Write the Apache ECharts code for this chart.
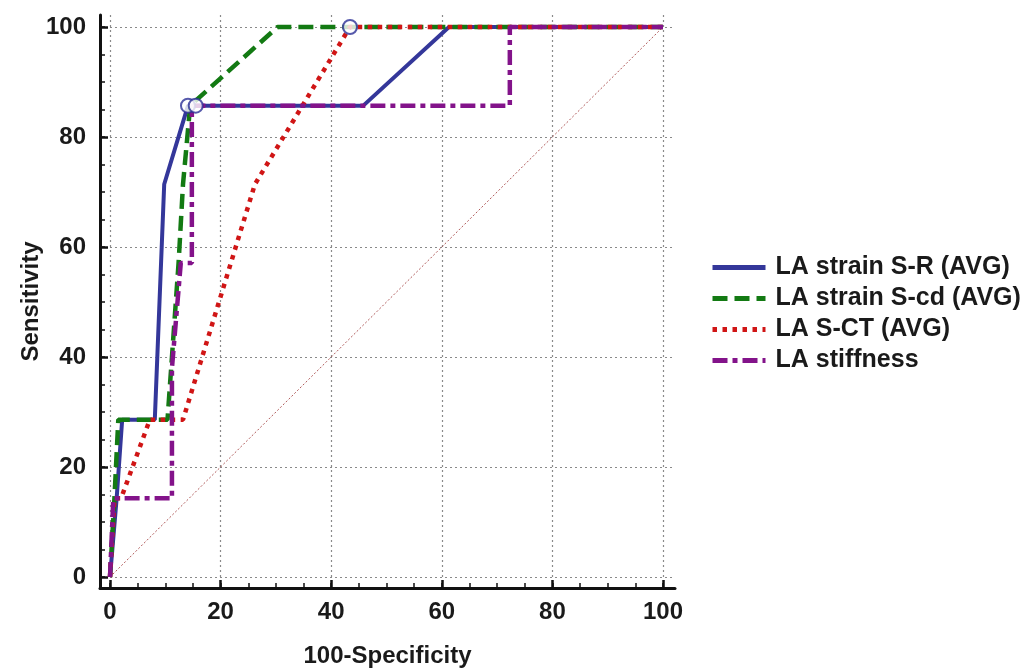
<!DOCTYPE html>
<html>
<head>
<meta charset="utf-8">
<script src="https://cdn.jsdelivr.net/npm/echarts@6/dist/echarts.min.js"></script>
<style>
html,body{margin:0;padding:0;background:#fff;}
#chart{width:1027px;height:668px;}
</style>
</head>
<body>
<div id="chart"></div>
<script>
// ---- data ----
const seriesNames = ['LA strain S-R (AVG)', 'LA strain S-cd (AVG)', 'LA S-CT (AVG)', 'LA stiffness'];
const srPoints = [[0,0],[1.2,14.3],[2.2,28.6],[8.1,28.6],[9.8,71.4],[14.1,85.7],[45.8,85.7],[61.3,100],[100,100]];
const scdPoints = [[0,0],[0.8,14.3],[1.5,28.6],[10.4,28.6],[12.4,57.1],[13.2,71.4],[14.5,85.7],[30.3,100],[100,100]];
const sctPoints = [[0,0],[0.8,14.3],[2.0,14.3],[7.2,28.6],[13.2,28.6],[26.2,71.4],[43.4,100],[100,100]];
const stiffPoints = [[0,0],[0.6,14.3],[11.2,14.3],[11.2,38.0],[12.8,57.1],[14.8,57.1],[14.8,85.7],[72.3,85.7],[72.3,100],[100,100]];
const diagonalPoints = [[0,0],[100,100]];
const cutoffPoints = [[14.1,85.7],[15.5,85.7],[43.4,100]];
const majorTicks = [0,20,40,60,80,100];
const minorTicks = [0,5,10,15,20,25,30,35,40,45,50,55,60,65,70,75,80,85,90,95,100];
const xTitle = '100-Specificity';
const yTitle = 'Sensitivity';

const FONT = '"Liberation Sans", Arial, sans-serif';
const chart = echarts.init(document.getElementById('chart'), null, {renderer: 'canvas'});

function mainAxis(isX) {
  return {
    type: 'value',
    min: isX ? -1.81 : -2.0,
    max: isX ? 102.17 : 102.18,
    position: isX ? 'bottom' : 'left',
    name: isX ? xTitle : yTitle,
    nameLocation: 'middle',
    nameGap: isX ? 56 : 57,
    nameMoveOverlap: false,
    nameRotate: isX ? 0 : 90,
    nameTextStyle: {fontFamily: FONT, fontWeight: 'bold', fontSize: 24, color: '#1a1a1a'},
    axisLine: {show: true, onZero: false, lineStyle: {color: '#111', width: 3}},
    axisTick: {show: true, inside: true, length: 8, customValues: majorTicks, lineStyle: {color: '#111', width: 2.5}},
    axisLabel: {show: true, customValues: majorTicks, margin: isX ? 12 : 14,
      fontFamily: FONT, fontWeight: 'bold', fontSize: 24, color: '#1a1a1a'},
    splitLine: {show: true, lineStyle: {color: '#8a8a8a', type: [2, 3], width: 1.2}}
  };
}
function minorAxis(isX) {
  return {
    type: 'value',
    min: isX ? -1.81 : -2.0,
    max: isX ? 102.17 : 102.18,
    position: isX ? 'bottom' : 'left',
    axisLine: {show: false, onZero: false},
    axisTick: {show: true, inside: true, length: 5, customValues: minorTicks, lineStyle: {color: '#111', width: 1.5}},
    axisLabel: {show: false},
    splitLine: {show: false}
  };
}

function lineSeries(name, data, color, type, width) {
  return {
    name: name, type: 'line', data: data, symbol: 'none', smooth: false,
    xAxisIndex: 0, yAxisIndex: 0,
    lineStyle: {color: color, width: width, type: type, cap: 'butt'},
    itemStyle: {color: color},
    emphasis: {disabled: true}, animation: false
  };
}

chart.setOption({
  animation: false,
  backgroundColor: '#fff',
  grid: {left: 100, top: 15, right: 352, bottom: 80, containLabel: false, outerBoundsMode: 'none'},
  xAxis: [mainAxis(true), minorAxis(true)],
  yAxis: [mainAxis(false), minorAxis(false)],
  legend: {
    data: seriesNames,
    orient: 'vertical',
    left: 705, top: 250,
    itemWidth: 53, itemHeight: 14, itemGap: 6,
    itemStyle: {opacity: 0},
    lineStyle: {width: 5},
    textStyle: {fontFamily: FONT, fontWeight: 'bold', fontSize: 25, color: '#1a1a1a', lineHeight: 25, padding: [0, 0, 0, 5]},
    selectedMode: false
  },
  series: [
    {
      name: 'diagonal', type: 'line', data: diagonalPoints, symbol: 'none',
      lineStyle: {color: '#b05a5a', width: 1, type: [2, 2]}, z: 1, silent: true
    },
    lineSeries(seriesNames[0], srPoints, '#34379a', 'solid', 4),
    lineSeries(seriesNames[1], scdPoints, '#137a13', [15, 7], 4.5),
    lineSeries(seriesNames[2], sctPoints, '#d01515', [4.5, 5.5], 4.5),
    lineSeries(seriesNames[3], stiffPoints, '#83138a', [15, 5, 5, 5], 4.5),
    {
      name: 'cutoff', type: 'scatter', data: cutoffPoints, symbol: 'circle', symbolSize: 14,
      itemStyle: {color: '#ffffff', borderColor: '#2c2f96', borderWidth: 2}, z: 10, silent: true
    }
  ]
});
</script>
</body>
</html>
